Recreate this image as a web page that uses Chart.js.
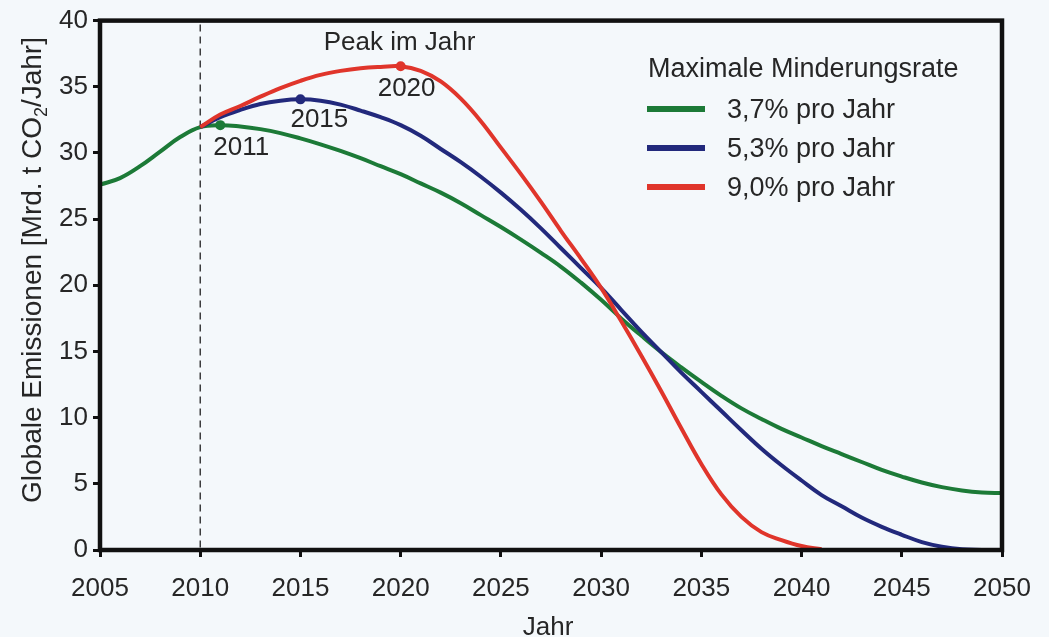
<!DOCTYPE html>
<html>
<head>
<meta charset="utf-8">
<script src="https://cdn.jsdelivr.net/npm/chart.js@4.4.1/dist/chart.umd.min.js"></script>
<style>
  html, body { margin: 0; padding: 0; background: #f4f8fb; }
  #wrap { width: 1049px; height: 637px; }
</style>
</head>
<body>
<div id="wrap"><canvas id="chart" width="1049" height="637"></canvas></div>
<script>
// Werte (Mrd. t CO2 / Jahr)
const YEARS = [
  2005, 2006, 2007, 2008, 2009, 2010, 2011, 2012, 2013, 2014,
  2015, 2016, 2017, 2018, 2019, 2020, 2021, 2022, 2023, 2024,
  2025, 2026, 2027, 2028, 2029, 2030, 2031, 2032, 2033, 2034,
  2035, 2036, 2037, 2038, 2039, 2040, 2041, 2042, 2043, 2044,
  2045, 2046, 2047, 2048, 2049, 2050,
];
const RATE_37 = [
  27.6, 28.1, 29.0, 30.1, 31.2, 31.95, 32.1, 32.0, 31.8, 31.5,
  31.1, 30.65, 30.15, 29.6, 29.0, 28.4, 27.7, 27.0, 26.2, 25.3,
  24.4, 23.45, 22.45, 21.4, 20.2, 18.9, 17.5, 16.2, 14.95, 13.8,
  12.7, 11.65, 10.7, 9.9, 9.15, 8.5, 7.85, 7.25, 6.65, 6.05,
  5.55, 5.1, 4.75, 4.5, 4.35, 4.3,
];
const RATE_53 = [
  null, null, null, null, null, 31.95, 32.7, 33.25, 33.7, 33.95,
  34.05, 33.95, 33.65, 33.2, 32.7, 32.1, 31.3, 30.3, 29.3, 28.2,
  27.0, 25.7, 24.3, 22.8, 21.3, 19.8, 18.15, 16.5, 14.95, 13.4,
  11.95, 10.5, 9.05, 7.65, 6.4, 5.25, 4.15, 3.3, 2.45, 1.75,
  1.15, 0.6, 0.25, 0.05, 0, null,
];
const RATE_90 = [
  null, null, null, null, null, 31.95, 32.9, 33.55, 34.25, 34.9,
  35.45, 35.9, 36.2, 36.4, 36.5, 36.55, 36.2, 35.4, 34.1, 32.4,
  30.4, 28.4, 26.3, 24.1, 22.0, 19.8, 17.3, 14.7, 12.0, 9.2,
  6.5, 4.2, 2.5, 1.35, 0.75, 0.3, 0.05, null, null, null,
  null, null, null, null, null, null,
];
const SERIES_LABELS = ["3,7% pro Jahr", "5,3% pro Jahr", "9,0% pro Jahr"];
const PEAK_YEARS = [2011, 2015, 2020];
const X_TICKS = [2005, 2010, 2015, 2020, 2025, 2030, 2035, 2040, 2045, 2050];
const Y_TICKS = [0, 5, 10, 15, 20, 25, 30, 35, 40];
const START_YEAR = 2010;

const COLORS = ["#1c7a37", "#22297c", "#e0352b"];
const TEXT = "#262626";
const FONT = "'Liberation Sans', Arial, sans-serif";

function toPoints(values) {
  return YEARS.map((year, i) => ({ x: year, y: values[i] }));
}

function makeDataset(label, values, color, peakYear) {
  return {
    label,
    data: toPoints(values),
    borderColor: color,
    backgroundColor: color,
    borderWidth: 4,
    tension: 0.4,
    spanGaps: false,
    pointRadius: (ctx) => (ctx.raw && ctx.raw.x === peakYear ? 5 : 0),
    pointBorderWidth: 0,
    pointBackgroundColor: color,
  };
}

// Beschriftungen an den Peaks: Versatz in Pixeln relativ zum Punkt
const PEAK_LABEL_OFFSETS = [
  { dx: -7, dy: 30 },
  { dx: -10, dy: 28 },
  { dx: -23, dy: 30 },
];

const overlay = {
  id: "overlay",
  beforeDatasetsDraw(chart) {
    const { ctx, chartArea, scales } = chart;
    const x = scales.x.getPixelForValue(START_YEAR);
    ctx.save();
    ctx.strokeStyle = "#222";
    ctx.lineWidth = 1.3;
    ctx.setLineDash([7, 5]);
    ctx.beginPath();
    ctx.moveTo(x, chartArea.top + 4);
    ctx.lineTo(x, chartArea.bottom);
    ctx.stroke();
    ctx.restore();
  },
  afterDatasetsDraw(chart) {
    const { ctx, chartArea, scales } = chart;
    ctx.save();

    // Rahmen
    ctx.strokeStyle = "#111";
    ctx.lineWidth = 4.5;
    ctx.strokeRect(chartArea.left, chartArea.top,
      chartArea.right - chartArea.left, chartArea.bottom - chartArea.top);

    // Peak-Beschriftungen
    ctx.fillStyle = TEXT;
    ctx.font = `26px ${FONT}`;
    ctx.textAlign = "left";
    ctx.textBaseline = "alphabetic";
    const series = [RATE_37, RATE_53, RATE_90];
    PEAK_YEARS.forEach((year, i) => {
      const idx = YEARS.indexOf(year);
      const px = scales.x.getPixelForValue(year);
      const py = scales.y.getPixelForValue(series[i][idx]);
      const off = PEAK_LABEL_OFFSETS[i];
      ctx.fillText(String(year), px + off.dx, py + off.dy);
      if (i === PEAK_YEARS.length - 1) {
        ctx.fillText("Peak im Jahr", px - 77, py - 16);
      }
    });

    // Legende
    ctx.font = `27px ${FONT}`;
    ctx.fillText("Maximale Minderungsrate", 648, 77);
    SERIES_LABELS.forEach((label, i) => {
      const y = 109 + i * 39;
      ctx.strokeStyle = COLORS[i];
      ctx.lineWidth = 6;
      ctx.beginPath();
      ctx.moveTo(647, y);
      ctx.lineTo(705, y);
      ctx.stroke();
      ctx.fillText(label, 727, y + 9);
    });

    // Achsentitel
    ctx.font = `26px ${FONT}`;
    ctx.textAlign = "center";
    ctx.fillText("Jahr", 548, 635);

    ctx.translate(41, 270);
    ctx.rotate(-Math.PI / 2);
    ctx.textAlign = "left";
    const a = "Globale Emissionen [Mrd. t CO";
    const b = "2";
    const c = "/Jahr]";
    ctx.font = `28px ${FONT}`;
    const wa = ctx.measureText(a).width;
    const wc = ctx.measureText(c).width;
    ctx.font = `18px ${FONT}`;
    const wb = ctx.measureText(b).width;
    const x0 = -(wa + wb + wc) / 2;
    ctx.font = `28px ${FONT}`;
    ctx.fillText(a, x0, 0);
    ctx.fillText(c, x0 + wa + wb, 0);
    ctx.font = `18px ${FONT}`;
    ctx.fillText(b, x0 + wa, 6);

    ctx.restore();
  },
};

new Chart(document.getElementById("chart"), {
  type: "line",
  data: {
    datasets: [
      makeDataset(SERIES_LABELS[0], RATE_37, COLORS[0], PEAK_YEARS[0]),
      makeDataset(SERIES_LABELS[1], RATE_53, COLORS[1], PEAK_YEARS[1]),
      makeDataset(SERIES_LABELS[2], RATE_90, COLORS[2], PEAK_YEARS[2]),
    ].reverse(),
  },
  options: {
    responsive: false,
    animation: false,
    layout: { padding: { left: 0, top: 16, right: 47, bottom: 0 } },
    plugins: { legend: { display: false }, tooltip: { enabled: false } },
    scales: {
      x: {
        type: "linear",
        min: 2005,
        max: 2050,
        afterBuildTicks: (scale) => { scale.ticks = X_TICKS.map((v) => ({ value: v })); },
        afterFit: (scale) => { scale.height = 87; },
        border: { display: false },
        grid: { drawOnChartArea: false, drawTicks: true, tickLength: 7, lineWidth: 3, color: "#111" },
        ticks: {
          color: TEXT,
          font: { family: FONT, size: 26 },
          padding: 16,
          maxRotation: 0,
          callback: (v) => String(v),
        },
      },
      y: {
        min: 0,
        max: 40,
        afterBuildTicks: (scale) => { scale.ticks = Y_TICKS.map((v) => ({ value: v })); },
        afterFit: (scale) => { scale.width = 100; },
        border: { display: false },
        grid: { drawOnChartArea: false, drawTicks: true, tickLength: 7, lineWidth: 3, color: "#111" },
        ticks: {
          color: TEXT,
          font: { family: FONT, size: 26 },
          padding: 5,
          callback: (v) => String(v),
        },
      },
    },
  },
  plugins: [overlay],
});
</script>
</body>
</html>
